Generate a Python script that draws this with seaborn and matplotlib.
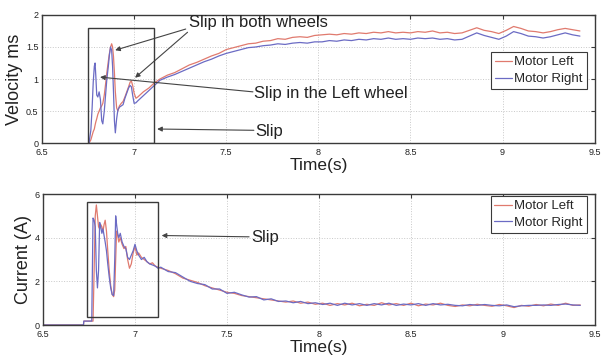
import numpy as np
import pandas as pd
import matplotlib
matplotlib.use("Agg")
import matplotlib.pyplot as plt
from matplotlib.patches import Rectangle
from matplotlib.lines import Line2D
import seaborn as sns

# ---- velocity trace (m/s) ----
t_vel = [6.755, 6.765, 6.772, 6.778, 6.784, 6.788, 6.792, 6.797, 6.803, 6.81,
         6.817, 6.824, 6.83, 6.838, 6.845, 6.852, 6.86, 6.866, 6.872, 6.878,
         6.883, 6.888, 6.893, 6.898, 6.905, 6.912, 6.92, 6.93, 6.94, 6.95,
         6.96, 6.97, 6.978, 6.985, 6.992, 7.0, 7.01, 7.02, 7.035, 7.05,
         7.065, 7.08, 7.095, 7.11, 7.125,
         7.14, 7.18, 7.22, 7.26, 7.30, 7.34, 7.38, 7.42, 7.46, 7.50,
         7.54, 7.58, 7.62, 7.66, 7.70, 7.74, 7.78, 7.82, 7.86, 7.90,
         7.94, 7.98, 8.02, 8.06, 8.10, 8.14, 8.18, 8.22, 8.26, 8.30,
         8.34, 8.38, 8.42, 8.46, 8.50, 8.54, 8.58, 8.62, 8.66, 8.70,
         8.74, 8.78, 8.82, 8.86, 8.90, 8.94, 8.98, 9.02, 9.06, 9.10,
         9.14, 9.18, 9.22, 9.26, 9.30, 9.34, 9.38, 9.42]

vel_left = [0.0, 0.05, 0.12, 0.18, 0.22, 0.28, 0.33, 0.38, 0.45, 0.5,
            0.55, 0.58, 0.62, 0.75, 0.92, 1.1, 1.28, 1.4, 1.5, 1.55,
            1.5, 1.35, 1.1, 0.8, 0.55, 0.5, 0.58, 0.62, 0.65, 0.72,
            0.8, 0.88, 0.95, 0.97, 0.9, 0.78, 0.7, 0.72, 0.76, 0.8,
            0.83, 0.86, 0.9, 0.94, 0.97,
            1.00, 1.06, 1.10, 1.16, 1.22, 1.26, 1.31, 1.36, 1.40, 1.46,
            1.49, 1.52, 1.55, 1.56, 1.59, 1.60, 1.63, 1.62, 1.65, 1.66,
            1.65, 1.68, 1.69, 1.70, 1.69, 1.71, 1.70, 1.72, 1.71, 1.73,
            1.72, 1.74, 1.72, 1.73, 1.72, 1.74, 1.73, 1.75, 1.72, 1.73,
            1.71, 1.72, 1.76, 1.80, 1.76, 1.74, 1.71, 1.76, 1.82, 1.79,
            1.75, 1.74, 1.72, 1.74, 1.77, 1.79, 1.77, 1.75]

vel_right = [0.0, 0.2, 0.55, 0.95, 1.2, 1.25, 1.05, 0.75, 0.72, 0.8,
             0.68, 0.35, 0.3, 0.5, 0.75, 1.0, 1.2, 1.38, 1.5, 1.45,
             1.2, 0.8, 0.35, 0.16, 0.38, 0.52, 0.56, 0.58, 0.6, 0.7,
             0.78, 0.86, 0.9, 0.88, 0.75, 0.62, 0.63, 0.66, 0.7, 0.74,
             0.78, 0.82, 0.86, 0.9, 0.94,
             0.98, 1.03, 1.07, 1.12, 1.17, 1.22, 1.27, 1.31, 1.36, 1.40,
             1.43, 1.46, 1.49, 1.50, 1.52, 1.53, 1.55, 1.54, 1.56, 1.57,
             1.56, 1.58, 1.58, 1.60, 1.59, 1.61, 1.60, 1.62, 1.61, 1.63,
             1.62, 1.64, 1.62, 1.63, 1.62, 1.64, 1.63, 1.64, 1.62, 1.63,
             1.61, 1.62, 1.67, 1.72, 1.68, 1.65, 1.62, 1.67, 1.74, 1.71,
             1.67, 1.66, 1.64, 1.66, 1.69, 1.72, 1.69, 1.67]

# ---- motor current trace (A) ----
t_cur = [6.5, 6.72, 6.722, 6.765, 6.772, 6.778, 6.784, 6.79, 6.796, 6.802,
         6.808, 6.814, 6.82, 6.826, 6.832, 6.838, 6.845, 6.852, 6.86, 6.868,
         6.876, 6.884, 6.89, 6.895, 6.9, 6.906, 6.912, 6.92, 6.93, 6.94,
         6.95, 6.96, 6.97, 6.98, 6.99, 7.0, 7.01, 7.02, 7.035, 7.05,
         7.065, 7.08, 7.095, 7.11, 7.125,
         7.14, 7.18, 7.22, 7.26, 7.30, 7.34, 7.38, 7.42, 7.46, 7.50,
         7.54, 7.58, 7.62, 7.66, 7.70, 7.74, 7.78, 7.82, 7.86, 7.90,
         7.94, 7.98, 8.02, 8.06, 8.10, 8.14, 8.18, 8.22, 8.26, 8.30,
         8.34, 8.38, 8.42, 8.46, 8.50, 8.54, 8.58, 8.62, 8.66, 8.70,
         8.74, 8.78, 8.82, 8.86, 8.90, 8.94, 8.98, 9.02, 9.06, 9.10,
         9.14, 9.18, 9.22, 9.26, 9.30, 9.34, 9.38, 9.42]

cur_left = [0.0, 0.0, 0.18, 0.18, 0.18, 2.5, 5.0, 5.5, 5.0, 4.5,
            4.4, 4.6, 4.5, 4.3, 4.6, 4.8, 4.3, 3.4, 2.5, 1.8,
            1.4, 1.3, 1.6, 3.0, 4.3, 4.1, 3.8, 4.0, 3.7, 3.5,
            3.6, 3.0, 2.6, 2.8, 3.3, 3.6, 3.2, 3.3, 3.1, 3.0,
            2.9, 2.8, 2.85, 2.7, 2.65,
            2.6, 2.5, 2.35, 2.15, 2.05, 1.95, 1.8, 1.7, 1.6, 1.5,
            1.45, 1.35, 1.3, 1.25, 1.2, 1.15, 1.1, 1.05, 1.1, 1.0,
            1.05, 0.95, 1.0, 0.9, 0.98, 0.92, 1.0, 0.88, 0.95, 0.9,
            1.02, 0.92, 0.98, 0.9, 1.0, 0.88, 0.96, 0.92, 1.0, 0.9,
            0.85, 0.92, 0.88, 0.95, 0.9, 0.86, 0.94, 0.88, 0.8, 0.9,
            0.86, 0.94, 0.88, 0.96, 0.9, 1.0, 0.9, 0.92]

cur_right = [0.0, 0.0, 0.18, 0.18, 4.9, 4.8, 4.5, 2.5, 1.7, 2.5,
             4.7, 4.5, 4.2, 4.4, 4.1, 3.8, 3.4, 2.8, 2.2, 1.7,
             1.4, 1.35, 3.0, 5.0, 4.6, 4.2, 4.0, 4.2, 3.8, 3.6,
             3.5, 3.1, 3.0, 3.2, 3.4, 3.7, 3.4, 3.2, 3.0, 3.1,
             2.9, 2.8, 2.75, 2.7, 2.6,
             2.65, 2.45, 2.4, 2.2, 2.0, 1.9, 1.85, 1.65, 1.65, 1.45,
             1.5, 1.38, 1.28, 1.3, 1.15, 1.2, 1.08, 1.1, 1.02, 1.08,
             0.98, 1.02, 0.94, 1.0, 0.9, 1.0, 0.92, 0.98, 0.9, 0.98,
             0.92, 1.0, 0.9, 0.96, 0.92, 0.98, 0.9, 0.98, 0.92, 0.95,
             0.9, 0.88, 0.94, 0.9, 0.94, 0.9, 0.88, 0.92, 0.84, 0.88,
             0.9, 0.9, 0.92, 0.9, 0.94, 0.96, 0.92, 0.9]

motor_names = ["Motor Left", "Motor Right"]
motor_colors = {"Motor Left": "#e07a6e", "Motor Right": "#6b6bc4"}

x_ticks = [6.5, 7, 7.5, 8, 8.5, 9, 9.5]
x_ticklabels = ["6.5", "7", "7.5", "8", "8.5", "9", "9.5"]
vel_ticks = [0, 0.5, 1, 1.5, 2]
vel_ticklabels = ["0", "0.5", "1", "1.5", "2"]
cur_ticks = [0, 2, 4, 6]
cur_ticklabels = ["0", "2", "4", "6"]

vel_df = pd.DataFrame({
    "Time": t_vel + t_vel,
    "Velocity": vel_left + vel_right,
    "Motor": [motor_names[0]] * len(t_vel) + [motor_names[1]] * len(t_vel),
})
cur_df = pd.DataFrame({
    "Time": t_cur + t_cur,
    "Current": cur_left + cur_right,
    "Motor": [motor_names[0]] * len(t_cur) + [motor_names[1]] * len(t_cur),
})

sns.set_style("white")
plt.rcParams["font.family"] = ["Liberation Sans", "DejaVu Sans"]

fig = plt.figure(figsize=(6.02, 3.56), dpi=100)
ax1 = fig.add_axes([0.0698, 0.598, 0.918, 0.360])
ax2 = fig.add_axes([0.0714, 0.087, 0.917, 0.368])

edge = "#3a3a3a"
ann_color = "#444444"
text_color = "#222222"


def style_axes(ax, yticks, yticklabels, ylim, ylabel):
    ax.set_xlim(6.5, 9.5)
    ax.set_ylim(*ylim)
    ax.set_xticks(x_ticks)
    ax.set_xticklabels(x_ticklabels)
    ax.set_yticks(yticks)
    ax.set_yticklabels(yticklabels)
    ax.tick_params(direction="in", length=3, width=0.8, labelsize=6.5,
                   top=True, right=True, colors=edge, labelcolor=text_color)
    ax.tick_params(axis="x", pad=3.5)
    ax.tick_params(axis="y", pad=2.5)
    for s in ax.spines.values():
        s.set_color(edge)
        s.set_linewidth(1.0)
    ax.grid(True, linestyle=":", color="#c8c8c8", linewidth=0.7)
    ax.set_xlabel("Time(s)", fontsize=12.5, color=text_color, labelpad=1)
    ax.set_ylabel(ylabel, fontsize=13, color=text_color, labelpad=2)


sns.lineplot(data=vel_df, x="Time", y="Velocity", hue="Motor",
             palette=motor_colors, estimator=None, sort=False,
             linewidth=0.9, legend=False, ax=ax1)
sns.lineplot(data=cur_df, x="Time", y="Current", hue="Motor",
             palette=motor_colors, estimator=None, sort=False,
             linewidth=0.9, legend=False, ax=ax2)

style_axes(ax1, vel_ticks, vel_ticklabels, (0, 2), "Velocity ms")
style_axes(ax2, cur_ticks, cur_ticklabels, (0, 6), "Current (A)")

# slip windows
ax1.add_patch(Rectangle((6.75, 0.0), 0.36, 1.80, fill=False,
                        edgecolor=edge, linewidth=1.0, zorder=5))
ax2.add_patch(Rectangle((6.74, 0.37), 0.385, 5.27, fill=False,
                        edgecolor=edge, linewidth=1.0, zorder=5))

arrow_kw = dict(arrowstyle="-|>", color=ann_color, lw=0.8,
                mutation_scale=7, shrinkA=0, shrinkB=0)

# velocity annotations
ax1.text(7.30, 1.89, "Slip in both wheels", fontsize=12, va="center",
         ha="left", color=text_color)
ax1.annotate("", xy=(6.897, 1.45), xytext=(7.28, 1.78), arrowprops=arrow_kw)
ax1.annotate("", xy=(7.005, 1.02), xytext=(7.29, 1.73), arrowprops=arrow_kw)
ax1.text(7.652, 0.78, "Slip in the Left wheel", fontsize=12, va="center",
         ha="left", color=text_color)
ax1.annotate("", xy=(6.815, 1.03), xytext=(7.645, 0.80), arrowprops=arrow_kw)
ax1.text(7.658, 0.18, "Slip", fontsize=12, va="center", ha="left",
         color=text_color)
ax1.annotate("", xy=(7.125, 0.22), xytext=(7.65, 0.20), arrowprops=arrow_kw)

# current annotation
ax2.text(7.63, 4.0, "Slip", fontsize=12, va="center", ha="left",
         color=text_color)
ax2.annotate("", xy=(7.145, 4.1), xytext=(7.62, 4.04), arrowprops=arrow_kw)

handles = [Line2D([0], [0], color=motor_colors[m], lw=0.9) for m in motor_names]
leg_kw = dict(loc="upper right", fontsize=9.5, frameon=True, fancybox=False,
              borderaxespad=0, borderpad=0.3, handlelength=1.3,
              handletextpad=0.2, labelspacing=0.35, framealpha=1)
leg1 = ax1.legend(handles, motor_names, bbox_to_anchor=(0.986, 0.71), **leg_kw)
leg2 = ax2.legend(handles, motor_names, bbox_to_anchor=(0.985, 0.985), **leg_kw)
for lg in (leg1, leg2):
    lg.get_frame().set_edgecolor(edge)
    lg.get_frame().set_linewidth(0.8)

fig.savefig("out.png", dpi=100, facecolor="white")
